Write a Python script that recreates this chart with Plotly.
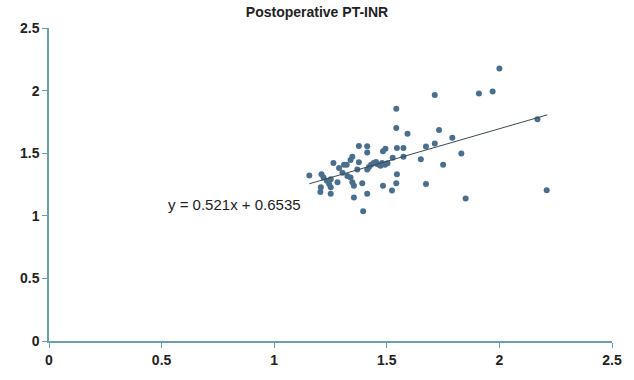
import plotly.graph_objects as go

# Scatter data
x_vals = [2.000, 1.970, 1.909, 1.713, 1.542, 1.542, 1.592, 1.732, 2.169, 1.791,
          1.713, 1.674, 1.831, 1.651, 1.750, 1.674, 1.850, 2.210, 1.376, 1.413,
          1.413, 1.494, 1.483, 1.545, 1.574, 1.526, 1.574, 1.442, 1.457, 1.479,
          1.430, 1.492, 1.376, 1.413, 1.545, 1.391, 1.483, 1.542, 1.523, 1.413,
          1.395, 1.354, 1.354, 1.156, 1.210, 1.219, 1.251, 1.263, 1.288, 1.303,
          1.322, 1.339, 1.347, 1.234, 1.244, 1.251, 1.207, 1.205, 1.251, 1.281,
          1.339, 1.347, 1.369, 1.310, 1.325, 1.466, 1.472, 1.503, 1.452, 1.421]
y_vals = [2.177, 1.992, 1.977, 1.964, 1.856, 1.702, 1.656, 1.685, 1.772, 1.623,
          1.577, 1.554, 1.498, 1.452, 1.408, 1.254, 1.138, 1.204, 1.558, 1.556,
          1.505, 1.536, 1.515, 1.541, 1.541, 1.464, 1.472, 1.421, 1.413, 1.421,
          1.408, 1.408, 1.428, 1.369, 1.331, 1.259, 1.241, 1.259, 1.202, 1.177,
          1.036, 1.146, 1.241, 1.322, 1.331, 1.305, 1.292, 1.421, 1.382, 1.344,
          1.408, 1.446, 1.472, 1.279, 1.254, 1.228, 1.228, 1.190, 1.177, 1.267,
          1.305, 1.267, 1.369, 1.408, 1.318, 1.408, 1.400, 1.420, 1.430, 1.390]

# Trend line as printed on the chart
slope = 0.521
intercept = 0.6535
trend_x = [1.156, 2.213]
equation = "y = 0.521x + 0.6535"

x_ticks = [0, 0.5, 1, 1.5, 2, 2.5]
y_ticks = [0, 0.5, 1, 1.5, 2, 2.5]
title = "Postoperative PT-INR"

fig = go.Figure()
fig.add_trace(go.Scatter(
    x=x_vals, y=y_vals, mode="markers",
    marker=dict(size=6, color="#4a6f8e", symbol="circle"),
    showlegend=False, hoverinfo="x+y"))
fig.add_trace(go.Scatter(
    x=trend_x, y=[slope * t + intercept for t in trend_x], mode="lines",
    line=dict(color="#3a4a50", width=1), showlegend=False))

fig.add_annotation(x=0.52, y=1.092, xref="x", yref="y", text=equation,
                   showarrow=False, xanchor="left", yanchor="middle",
                   font=dict(family="Liberation Sans, Arial", size=15, color="#222"),
                   bgcolor="white")

axis_common = dict(
    showgrid=False, zeroline=False, showline=True, linecolor="#6a9fae",
    linewidth=1.5, ticks="outside", ticklen=5, tickcolor="#6a9fae",
    ticklabeloverflow="allow",
    tickfont=dict(family="Liberation Sans, Arial", size=14, color="#222",
                  weight="bold"),
)
fig.update_xaxes(range=[0, 2.5], tickvals=x_ticks,
                 ticktext=[f"{v:g}" for v in x_ticks], **axis_common)
fig.update_yaxes(range=[0, 2.5], tickvals=y_ticks,
                 ticktext=[f"{v:g}" for v in y_ticks], **axis_common)

fig.update_layout(
    width=634, height=380,
    margin=dict(l=49, r=17, t=28, b=27),
    plot_bgcolor="white", paper_bgcolor="white",
    title=dict(text=f"<b>{title}</b>", x=0.5, xanchor="center", y=0.968,
               yanchor="middle",
               font=dict(family="Liberation Sans, Arial", size=14, color="#222")),
)

fig.write_html("out.html")
